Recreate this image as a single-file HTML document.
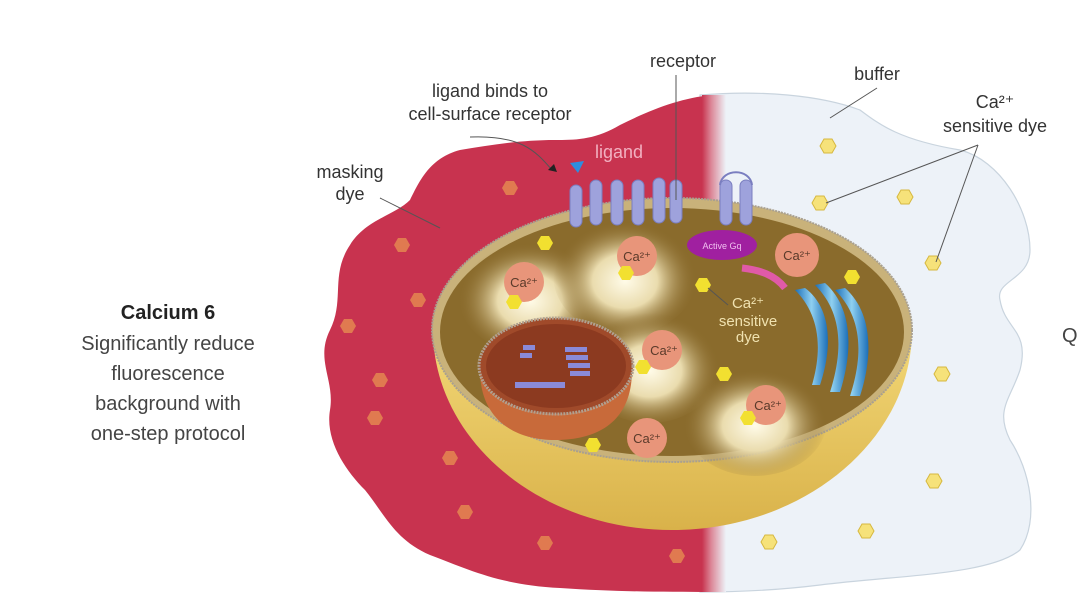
<!DOCTYPE html>
<html><head><meta charset="utf-8"><style>
html,body{margin:0;padding:0;background:#fff;}
svg{display:block;font-family:"Liberation Sans",sans-serif;}
</style></head><body>
<svg width="1080" height="610" viewBox="0 0 1080 610" xmlns="http://www.w3.org/2000/svg">
<defs>
<linearGradient id="fade" x1="0" x2="1" y1="0" y2="0">
<stop offset="0" stop-color="#c8334f"/><stop offset="0.4" stop-color="#dc8a9a"/><stop offset="1" stop-color="#edf2f8"/>
</linearGradient>
<radialGradient id="vac" cx="0.5" cy="0.55" r="0.5">
<stop offset="0" stop-color="#fffbe8"/><stop offset="0.45" stop-color="#eadcae"/><stop offset="1" stop-color="#8a6b2c" stop-opacity="0"/>
</radialGradient>
<linearGradient id="bowl" x1="0" x2="0" y1="0" y2="1">
<stop offset="0" stop-color="#f3d877"/><stop offset="1" stop-color="#d9b24a"/>
</linearGradient>
<linearGradient id="er" x1="0" x2="1"><stop offset="0" stop-color="#1c6fb8"/><stop offset="0.5" stop-color="#8fd0f0"/><stop offset="1" stop-color="#1c6fb8"/></linearGradient>
<clipPath id="leftc"><rect x="0" y="0" width="712" height="610"/></clipPath>
<g id="hx"><polygon points="-8,0 -4,-7 4,-7 8,0 4,7 -4,7"/></g>
</defs>

<path d="M700,95 C760,90 820,95 860,110 C880,125 900,140 960,150 C1000,160 1030,210 1030,250 C1030,280 995,280 1000,300 C1005,330 1030,330 1020,370 C1010,400 995,410 1010,440 C1030,470 1040,520 1020,550 C990,575 900,575 820,585 C780,590 740,592 700,592 Z" fill="#edf2f8" stroke="#c9d4de" stroke-width="1.2"/>
<g clip-path="url(#leftc)">
<path d="M730,95 L712,95 C680,98 650,110 620,125 C595,140 575,140 555,140 C520,140 490,145 460,150 C430,158 420,180 410,200 C395,215 365,220 350,245 C330,275 345,300 330,330 C315,360 335,380 330,410 C325,440 345,470 365,490 C385,515 395,540 430,555 C470,570 500,585 560,588 C620,592 670,592 730,592 Z" fill="#c8334f"/>
</g>
<rect x="702" y="95" width="24" height="497" fill="url(#fade)"/>
<!-- masking dye hexes -->
<g fill="#e07a50">
<use href="#hx" x="510" y="188"/><use href="#hx" x="402" y="245"/><use href="#hx" x="418" y="300"/><use href="#hx" x="348" y="326"/><use href="#hx" x="380" y="380"/><use href="#hx" x="375" y="418"/><use href="#hx" x="450" y="458"/><use href="#hx" x="465" y="512"/><use href="#hx" x="545" y="543"/><use href="#hx" x="677" y="556"/>
</g>
<g fill="#f6e27a" stroke="#d6b840" stroke-width="1">
<use href="#hx" x="828" y="146"/><use href="#hx" x="820" y="203"/><use href="#hx" x="905" y="197"/><use href="#hx" x="933" y="263"/><use href="#hx" x="942" y="374"/><use href="#hx" x="934" y="481"/><use href="#hx" x="866" y="531"/><use href="#hx" x="769" y="542"/>
</g>
<!-- cell bowl -->
<path d="M433,330 C433,440 540,530 672,530 C804,530 912,440 912,330 Z" fill="url(#bowl)"/>
<ellipse cx="672" cy="330" rx="240" ry="132" fill="#c9b27a" stroke="#a9a090" stroke-width="2" stroke-dasharray="2 1"/>
<ellipse cx="672" cy="332" rx="232" ry="124" fill="#8a6b2c"/>
<ellipse cx="530" cy="295" rx="72" ry="58" fill="url(#vac)"/>
<ellipse cx="625" cy="275" rx="72" ry="60" fill="url(#vac)"/>
<ellipse cx="650" cy="365" rx="70" ry="58" fill="url(#vac)"/>
<ellipse cx="755" cy="420" rx="72" ry="56" fill="url(#vac)"/>
<g fill="#e8957a">
<circle cx="524" cy="282" r="20"/><circle cx="637" cy="256" r="20"/><circle cx="797" cy="255" r="22"/><circle cx="662" cy="350" r="20"/><circle cx="766" cy="405" r="20"/><circle cx="647" cy="438" r="20"/>
</g>
<g fill="#5a3a2a" font-size="13" text-anchor="middle">
<text x="524" y="287">Ca²⁺</text><text x="637" y="261">Ca²⁺</text><text x="797" y="260">Ca²⁺</text><text x="664" y="355">Ca²⁺</text><text x="768" y="410">Ca²⁺</text><text x="647" y="443">Ca²⁺</text>
</g>
<g fill="#f2e030">
<use href="#hx" x="545" y="243"/><use href="#hx" x="514" y="302"/><use href="#hx" x="626" y="273"/><use href="#hx" x="703" y="285"/><use href="#hx" x="852" y="277"/><use href="#hx" x="643" y="367"/><use href="#hx" x="724" y="374"/><use href="#hx" x="748" y="418"/><use href="#hx" x="593" y="445"/>
</g>
<!-- nucleus -->
<path d="M480,370 C480,420 515,440 555,440 C600,440 632,420 632,370 Z" fill="#c86a3a"/>
<ellipse cx="556" cy="366" rx="77" ry="48" fill="#a04a2a" stroke="#b0a090" stroke-width="3" stroke-dasharray="2 1"/>
<ellipse cx="556" cy="366" rx="70" ry="42" fill="#8c3a20"/>
<g fill="#8a8ad8">
<rect x="523" y="345" width="12" height="5"/><rect x="520" y="353" width="12" height="5"/><rect x="565" y="347" width="22" height="5"/><rect x="566" y="355" width="22" height="5"/><rect x="568" y="363" width="22" height="5"/><rect x="570" y="371" width="20" height="5"/><rect x="515" y="382" width="50" height="6"/>
</g>
<g fill="url(#er)">
<path d="M795,290 C815,310 825,340 812,385 L820,385 C835,340 828,305 805,288 Z"/>
<path d="M815,285 C840,310 845,345 830,392 L840,392 C855,345 850,305 825,283 Z"/>
<path d="M835,290 C860,315 865,350 850,396 L860,396 C875,350 870,310 845,288 Z"/>
</g>
<path d="M742,268 C760,270 775,275 785,288" stroke="#e05aa8" stroke-width="7" fill="none"/>
<g fill="#9ea2dc" stroke="#7a7ec0" stroke-width="1">
<rect x="570" y="185" width="12" height="42" rx="6"/><rect x="590" y="180" width="12" height="45" rx="6"/><rect x="611" y="180" width="12" height="45" rx="6"/><rect x="632" y="180" width="12" height="45" rx="6"/><rect x="653" y="178" width="12" height="45" rx="6"/><rect x="670" y="180" width="12" height="43" rx="6"/>
<rect x="720" y="180" width="12" height="45" rx="6"/><rect x="740" y="180" width="12" height="45" rx="6"/>
</g>
<path d="M720,185 C722,168 750,168 752,185" stroke="#7a7ec0" stroke-width="2" fill="none"/>
<ellipse cx="722" cy="245" rx="35" ry="15" fill="#a020a0"/>
<text x="722" y="249" font-size="9" fill="#f0c0f0" text-anchor="middle">Active Gq</text>
<path d="M570,163 L584,161 L578,173 Z" fill="#2d8ee0"/>
<g stroke="#555" stroke-width="1" fill="none">
<line x1="676" y1="75" x2="676" y2="200"/>
<line x1="877" y1="88" x2="830" y2="118"/>
<path d="M380,198 L440,228"/>
<path d="M470,137 C520,135 535,150 552,170"/>
<line x1="978" y1="145" x2="826" y2="203"/>
<line x1="978" y1="145" x2="936" y2="262"/>
<line x1="708" y1="288" x2="728" y2="305"/>
</g>
<path d="M548,170 L557,172 L554,164 Z" fill="#222"/>
<g fill="#333" font-size="18" text-anchor="middle">
<text x="683" y="67">receptor</text>
<text x="490" y="97">ligand binds to</text>
<text x="490" y="120">cell-surface receptor</text>
<text x="877" y="80">buffer</text>
<text x="995" y="108">Ca²⁺</text>
<text x="995" y="132">sensitive dye</text>
<text x="350" y="178">masking</text>
<text x="350" y="200">dye</text>
</g>
<text x="595" y="158" font-size="18" fill="#f2b0c0">ligand</text>
<g fill="#f0e2b0" font-size="15" text-anchor="middle">
<text x="748" y="308">Ca²⁺</text><text x="748" y="326">sensitive</text><text x="748" y="342">dye</text>
</g>
<g fill="#444" font-size="20" text-anchor="middle">
<text x="168" y="319" font-weight="bold" fill="#222">Calcium 6</text>
<text x="168" y="350">Significantly reduce</text>
<text x="168" y="380">fluorescence</text>
<text x="168" y="410">background with</text>
<text x="168" y="440">one-step protocol</text>
</g>
<text x="1062" y="342" font-size="20" fill="#444">Q</text>
</svg>
</body></html>
